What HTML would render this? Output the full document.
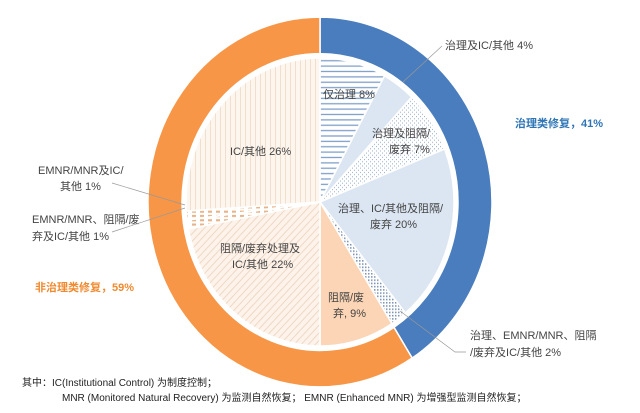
<!DOCTYPE html>
<html><head><meta charset="utf-8"><style>
html,body{margin:0;padding:0;background:#fff;}
svg{display:block;font-family:"Liberation Sans","Noto Sans CJK SC",sans-serif;}
</style></head><body>
<svg id="s" width="640" height="413" viewBox="0 0 640 413" xmlns="http://www.w3.org/2000/svg">
<defs>
<pattern id="hl" width="6" height="5" patternUnits="userSpaceOnUse"><rect width="6" height="5" fill="#fff"/><rect y="3" width="6" height="1.2" fill="#7f9fc9"/></pattern>
<pattern id="dt" width="4" height="4" patternUnits="userSpaceOnUse"><rect width="4" height="4" fill="#fff"/><rect x="0" y="0" width="1" height="1" fill="#9fb3cc"/><rect x="2" y="2" width="1" height="1" fill="#9fb3cc"/></pattern>
<pattern id="dd" width="3" height="3" patternUnits="userSpaceOnUse"><rect width="3" height="3" fill="#fff"/><rect width="1.5" height="1.5" fill="#7f95b5"/></pattern>
<pattern id="dg" width="5" height="5" patternUnits="userSpaceOnUse" patternTransform="rotate(45)"><rect width="5" height="5" fill="#fdf3ea"/><rect width="0.8" height="5" fill="#ecd3bd"/></pattern>
<pattern id="vl" width="5" height="5" patternUnits="userSpaceOnUse"><rect width="5" height="5" fill="#fdf6ef"/><rect width="0.8" height="5" fill="#efd9c4"/></pattern>
<pattern id="dsh" width="8" height="4" patternUnits="userSpaceOnUse"><rect width="8" height="4" fill="#fff"/><rect width="4" height="2" fill="#e8b48a"/></pattern>
</defs>
<g id="g" transform="translate(320,202) scale(1,1.075)"></g>
<g font-size="11" fill="#444">
<text x="445" y="49">治理及IC/其他 4%</text>
<line x1="442" y1="46" x2="403" y2="82" stroke="#999" stroke-width="0.7"/>
<text x="323" y="98">仅治理 8%</text>
<text x="372" y="137">治理及阻隔/</text>
<text x="389" y="153">废弃 7%</text>
<text x="338" y="212">治理、IC/其他及阻隔/</text>
<text x="370" y="228">废弃 20%</text>
<text x="328" y="301">阻隔/废</text>
<text x="333" y="317">弃, 9%</text>
<text x="220" y="252">阻隔/废弃处理及</text>
<text x="232" y="268">IC/其他 22%</text>
<text x="230" y="155">IC/其他 26%</text>
<text x="38" y="174">EMNR/MNR及IC/</text>
<text x="60" y="190">其他 1%</text>
<text x="32" y="223">EMNR/MNR、阻隔/废</text>
<text x="32" y="240">弃及IC/其他 1%</text>
<text x="470" y="339">治理、EMNR/MNR、阻隔</text>
<text x="470" y="356">/废弃及IC/其他 2%</text>
<polyline points="466,352 455,352 400,311" fill="none" stroke="#999" stroke-width="0.7"/>
<line x1="112" y1="183" x2="185" y2="205" stroke="#999" stroke-width="0.7"/>
<line x1="112" y1="232" x2="185" y2="208" stroke="#999" stroke-width="0.7"/>
<text x="515" y="127" fill="#2e75b6" font-weight="bold">治理类修复，41%</text>
<text x="35" y="291" fill="#f08a30" font-weight="bold">非治理类修复，59%</text>
</g>
<g font-size="10" fill="#222">
<text x="22" y="386">其中：IC(Institutional Control) 为制度控制；</text>
<text x="62" y="401">MNR (Monitored Natural Recovery) 为监测自然恢复； EMNR (Enhanced MNR) 为增强型监测自然恢复；</text>
</g>
</svg>
<script>
var g=document.getElementById('g'),NS='http://www.w3.org/2000/svg';
function pt(r,a){a=a*Math.PI/180;return [(r*Math.sin(a)).toFixed(2),(-r*Math.cos(a)).toFixed(2)];}
function ring(r1,r2,a0,a1,fill){var l=(a1-a0)>180?1:0,p=pt(r2,a0),q=pt(r2,a1),s=pt(r1,a1),t=pt(r1,a0);
var d='M'+p+'A'+r2+','+r2+' 0 '+l+' 1 '+q+'L'+s+'A'+r1+','+r1+' 0 '+l+' 0 '+t+'Z';add(d,fill);}
function wedge(r,a0,a1,fill){var l=(a1-a0)>180?1:0,p=pt(r,a0),q=pt(r,a1);add('M0,0L'+p+'A'+r+','+r+' 0 '+l+' 1 '+q+'Z',fill);}
function add(d,f){var e=document.createElementNS(NS,'path');e.setAttribute('d',d);e.setAttribute('fill',f);e.setAttribute('stroke','#fff');e.setAttribute('stroke-width','1.5');g.appendChild(e);}
ring(138,172,0,147.6,'#4a7dbd');ring(138,172,147.6,360,'#f79646');
var sl=[[8,'url(#hl)'],[4,'#dce6f2'],[7,'url(#dt)'],[20,'#dce6f2'],[2,'url(#dd)'],[9,'#fbd5b5'],[22,'url(#dg)'],[1,'url(#dsh)'],[1,'url(#dsh)'],[26,'url(#vl)']];
var a=0;sl.forEach(function(s){var b=a+s[0]*3.6;wedge(134,a,b,s[1]);a=b;});
</script>
</body></html>
